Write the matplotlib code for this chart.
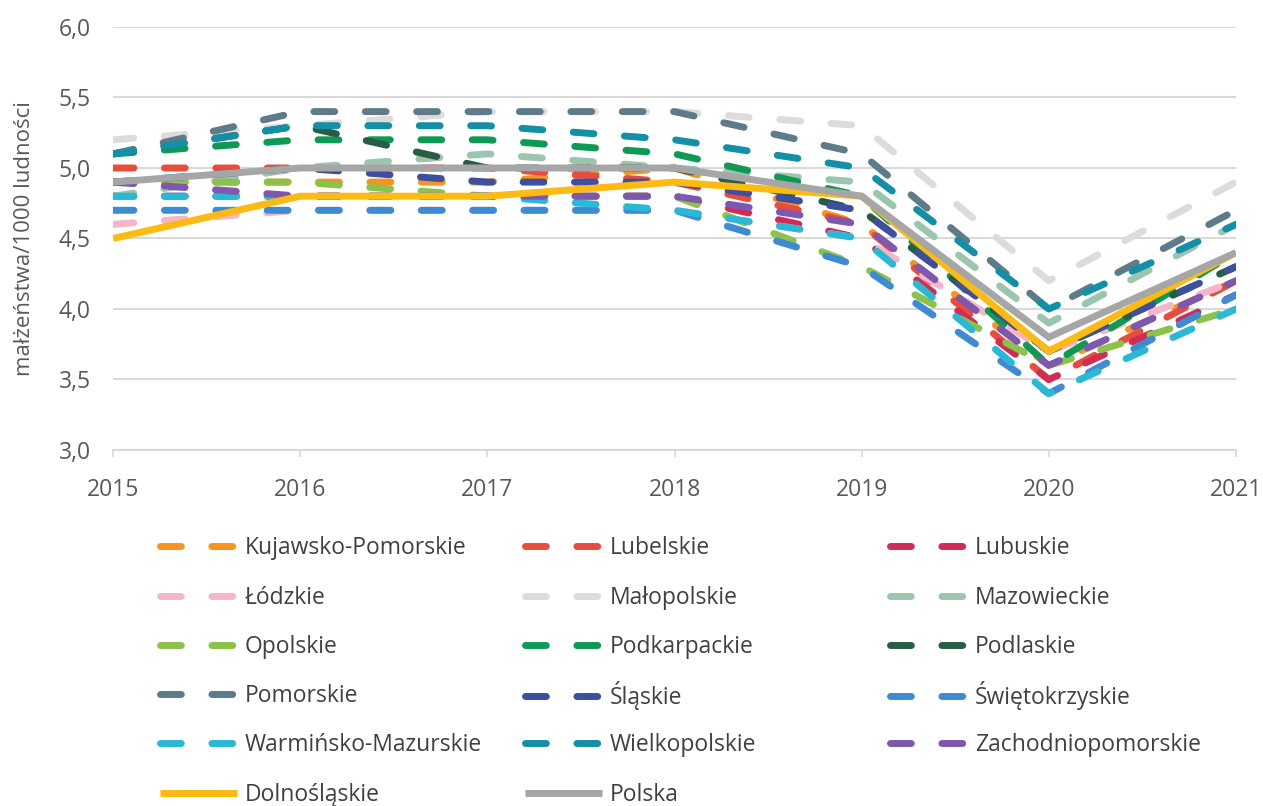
import numpy as np
import matplotlib
matplotlib.use("Agg")
import matplotlib.pyplot as plt

plt.rcParams['font.family'] = ['Open Sans', 'DejaVu Sans']

# --- data (małżeństwa na 1000 ludności) ---
years = [2015, 2016, 2017, 2018, 2019, 2020, 2021]

kujawsko_pomorskie = [4.9, 4.9, 4.9, 5.0, 4.6, 3.6, 4.2]
lubelskie = [5.0, 5.0, 5.0, 4.9, 4.6, 3.5, 4.2]
lubuskie = [4.8, 4.8, 4.8, 4.8, 4.5, 3.5, 4.1]
lodzkie = [4.6, 4.7, 4.7, 4.7, 4.5, 3.7, 4.2]
malopolskie = [5.2, 5.3, 5.4, 5.4, 5.3, 4.2, 4.9]
mazowieckie = [4.8, 5.0, 5.1, 5.0, 4.9, 3.9, 4.6]
opolskie = [4.9, 4.9, 4.8, 4.8, 4.3, 3.6, 4.0]
podkarpackie = [5.1, 5.2, 5.2, 5.1, 4.8, 3.6, 4.4]
podlaskie = [5.1, 5.3, 5.0, 5.0, 4.7, 3.7, 4.3]
pomorskie = [5.1, 5.4, 5.4, 5.4, 5.1, 4.0, 4.7]
slaskie = [4.9, 5.0, 4.9, 4.9, 4.7, 3.7, 4.3]
swietokrzyskie = [4.7, 4.7, 4.7, 4.7, 4.3, 3.4, 4.1]
warminsko_mazurskie = [4.8, 4.8, 4.8, 4.7, 4.5, 3.4, 4.0]
wielkopolskie = [5.1, 5.3, 5.3, 5.2, 5.0, 4.0, 4.6]
zachodniopomorskie = [4.9, 4.8, 4.8, 4.8, 4.6, 3.6, 4.2]
dolnoslaskie = [4.5, 4.8, 4.8, 4.9, 4.8, 3.7, 4.4]
polska = [4.9, 5.0, 5.0, 5.0, 4.8, 3.8, 4.4]

series = [
    ("Kujawsko-Pomorskie", kujawsko_pomorskie, "#F7941D", True),
    ("Lubelskie", lubelskie, "#E84C3D", True),
    ("Lubuskie", lubuskie, "#D22B54", True),
    ("Łódzkie", lodzkie, "#F4B6C9", True),
    ("Małopolskie", malopolskie, "#DCDCDC", True),
    ("Mazowieckie", mazowieckie, "#9CC5B0", True),
    ("Opolskie", opolskie, "#8BC34A", True),
    ("Podkarpackie", podkarpackie, "#0E9A55", True),
    ("Podlaskie", podlaskie, "#285D45", True),
    ("Pomorskie", pomorskie, "#5E7B8A", True),
    ("Śląskie", slaskie, "#3F4FA0", True),
    ("Świętokrzyskie", swietokrzyskie, "#3E8BD3", True),
    ("Warmińsko-Mazurskie", warminsko_mazurskie, "#29B9D6", True),
    ("Wielkopolskie", wielkopolskie, "#138FA8", True),
    ("Zachodniopomorskie", zachodniopomorskie, "#7E57AE", True),
    ("Dolnośląskie", dolnoslaskie, "#FDBA12", False),
    ("Polska", polska, "#A6A6A6", False),
]

fig = plt.figure(figsize=(12.63, 8.06), dpi=100)
ax = fig.add_axes([0.0895, 0.4417, 0.9786 - 0.0895, 0.9665 - 0.4417])

handles = []
for i, (name, vals, col, dashed) in enumerate(series):
    if dashed:
        ln, = ax.plot(years, vals, color=col, lw=5, dashes=(3, 4.4),
                      dash_capstyle='round', zorder=3 + i * 0.1, label=name)
    else:
        ln, = ax.plot(years, vals, color=col, lw=5, solid_capstyle='butt',
                      solid_joinstyle='miter', zorder=3 + i * 0.1, label=name)
    handles.append(ln)

ax.set_xlim(2015, 2021)
ax.set_ylim(3.0, 6.0)
yt = np.arange(3.0, 6.01, 0.5)
ax.set_yticks(yt)
ax.set_yticklabels([f"{v:.1f}".replace('.', ',') for v in yt])
ax.set_xticks(years)
ax.grid(axis='y', color='#D9D9D9', lw=1.5, zorder=0)
for s in ['top', 'right', 'left']:
    ax.spines[s].set_visible(False)
ax.spines['bottom'].set_color('#D9D9D9')
ax.spines['bottom'].set_linewidth(1.5)
ax.tick_params(axis='y', length=0, pad=16, labelsize=16.5, labelcolor='#595959')
ax.tick_params(axis='x', length=5, width=1.2, color='#D9D9D9', pad=15,
               labelsize=16.5, labelcolor='#595959')
ax.set_ylabel("małżeństwa/1000 ludności", fontsize=16, color='#595959', labelpad=17)

# --- legend: 3 columns x 6 rows, filled row by row ---
col_x = [160, 525, 890]
row_y = [548, 598, 647, 696, 745, 795]
for i, ln in enumerate(handles):
    r, c = divmod(i, 3)
    leg = fig.legend([ln], [ln.get_label()], loc='center left',
                     bbox_to_anchor=(col_x[c] / 1263, 1 - row_y[r] / 806),
                     frameon=False, fontsize=16.5, handlelength=3.36,
                     handletextpad=0.35, borderpad=0, borderaxespad=0)
    leg.get_texts()[0].set_color('#404040')

fig.savefig("out.png", dpi=100)
